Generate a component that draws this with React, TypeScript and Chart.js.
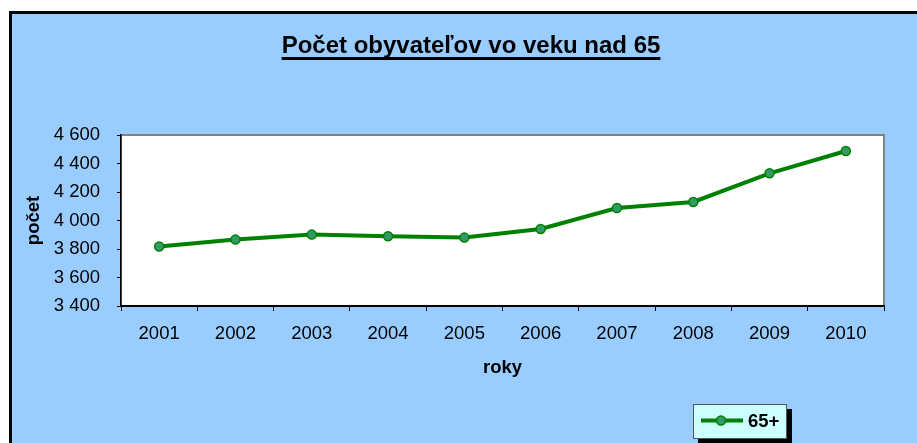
import React, { useEffect, useRef } from "react";
import { Chart, registerables } from "chart.js";

Chart.register(...registerables);

const years = ["2001", "2002", "2003", "2004", "2005", "2006", "2007", "2008", "2009", "2010"];
const values65 = [3817, 3866, 3901, 3889, 3880, 3940, 4088, 4130, 4331, 4488];
const seriesLabel = "65+";
const chartTitle = "Počet obyvateľov vo veku nad 65";
const yTitle = "počet";
const xTitle = "roky";
const yMin = 3400;
const yMax = 4600;
const yStep = 200;

const FONT = '"Liberation Sans", Arial, Helvetica, sans-serif';

const decorPlugin = {
  id: "decor",
  beforeDraw(chart: any) {
    const { ctx, width, height, chartArea: a } = chart;
    ctx.save();
    ctx.fillStyle = "#ffffff";
    ctx.fillRect(0, 0, width, height);
    ctx.fillStyle = "#000000";
    ctx.fillRect(9, 11, width, height);
    ctx.fillStyle = "#99CCFF";
    ctx.fillRect(12, 14, width, height);
    ctx.fillStyle = "#ffffff";
    ctx.fillRect(a.left, a.top, a.right - a.left, a.bottom - a.top);
    ctx.strokeStyle = "#808080";
    ctx.lineWidth = 2;
    ctx.strokeRect(a.left, a.top, a.right - a.left, a.bottom - a.top);
    // title
    ctx.font = `bold 24px ${FONT}`;
    ctx.fillStyle = "#000";
    ctx.textAlign = "center";
    ctx.textBaseline = "alphabetic";
    const cx = 471;
    ctx.fillText(chartTitle, cx, 53);
    const w = ctx.measureText(chartTitle).width;
    ctx.fillRect(cx - w / 2, 57, w, 3);
    ctx.restore();
  },
  afterDraw(chart: any) {
    const { ctx } = chart;
    const ds = chart.data.datasets[0];
    ctx.save();
    const bx = 693, by = 404, bw = 94, bh = 35;
    ctx.fillStyle = "#000";
    ctx.fillRect(bx + 5, by + 5, bw, bh);
    ctx.fillStyle = "#CCFFFF";
    ctx.fillRect(bx, by, bw, bh);
    ctx.strokeStyle = "#555555";
    ctx.lineWidth = 1;
    ctx.strokeRect(bx + 0.5, by + 0.5, bw - 1, bh - 1);
    const ly = by + 16.5;
    ctx.strokeStyle = ds.borderColor;
    ctx.lineWidth = ds.borderWidth;
    ctx.beginPath();
    ctx.moveTo(bx + 8, ly);
    ctx.lineTo(bx + 50, ly);
    ctx.stroke();
    ctx.beginPath();
    ctx.arc(bx + 28, ly, ds.pointRadius, 0, Math.PI * 2);
    ctx.fillStyle = ds.pointBackgroundColor;
    ctx.fill();
    ctx.lineWidth = ds.pointBorderWidth;
    ctx.strokeStyle = ds.pointBorderColor;
    ctx.stroke();
    ctx.font = `bold 18.5px ${FONT}`;
    ctx.fillStyle = "#000";
    ctx.textAlign = "left";
    ctx.textBaseline = "middle";
    ctx.fillText(ds.label, bx + 55, ly + 1);
    ctx.restore();
  },
};

export default function App() {
  const ref = useRef<HTMLCanvasElement | null>(null);
  useEffect(() => {
    document.body.style.margin = "0";
    const canvas = ref.current!;
    Chart.defaults.font.family = FONT;
    Chart.defaults.color = "#000";
    const chart = new Chart(canvas, {
      type: "line",
      data: {
        labels: years,
        datasets: [
          {
            label: seriesLabel,
            data: values65,
            borderColor: "#008000",
            borderWidth: 4,
            tension: 0,
            pointRadius: 4.5,
            pointHoverRadius: 4.5,
            pointBackgroundColor: "#339966",
            pointBorderColor: "#008000",
            pointBorderWidth: 1.5,
          },
        ],
      },
      options: {
        responsive: false,
        animation: false,
        events: [],
        layout: { padding: { left: 12, right: 33, top: 135, bottom: 0 } },
        plugins: {
          legend: { display: false },
          title: { display: false },
          tooltip: { enabled: false },
        },
        scales: {
          x: {
            offset: true,
            grid: {
              offset: true,
              drawOnChartArea: false,
              drawTicks: true,
              tickLength: 5,
              tickColor: "#000",
              color: "#000",
            },
            border: { display: true, color: "#000", width: 2 },
            ticks: { padding: 12, font: { size: 18.5 }, color: "#000", maxRotation: 0 },
            title: {
              display: true,
              text: xTitle,
              font: { size: 18.5, weight: "bold" },
              color: "#000",
              padding: { top: 0, bottom: 64 },
            },
            afterFit: (s: any) => {
              s.height = 137;
            },
          },
          y: {
            min: yMin,
            max: yMax,
            grid: {
              drawOnChartArea: false,
              drawTicks: true,
              tickLength: 4,
              tickColor: "#000",
              color: "#000",
            },
            border: { display: true, color: "#000", width: 1.5 },
            ticks: {
              stepSize: yStep,
              padding: 17,
              font: { size: 18.5 },
              color: "#000",
              callback: (v: any) => String(v).replace(/\B(?=(\d{3})+(?!\d))/g, " "),
            },
            title: {
              display: true,
              text: yTitle,
              font: { size: 18.5, weight: "bold" },
              color: "#000",
              padding: { top: 11, bottom: 0 },
            },
            afterFit: (s: any) => {
              s.width = 109;
            },
          },
        },
      },
      plugins: [decorPlugin],
    });
    return () => chart.destroy();
  }, []);
  return (
    <div style={{ position: "fixed", left: 0, top: 0, width: 917, height: 443 }}>
      <canvas ref={ref} width={917} height={443} style={{ width: 917, height: 443, display: "block" }} />
    </div>
  );
}
